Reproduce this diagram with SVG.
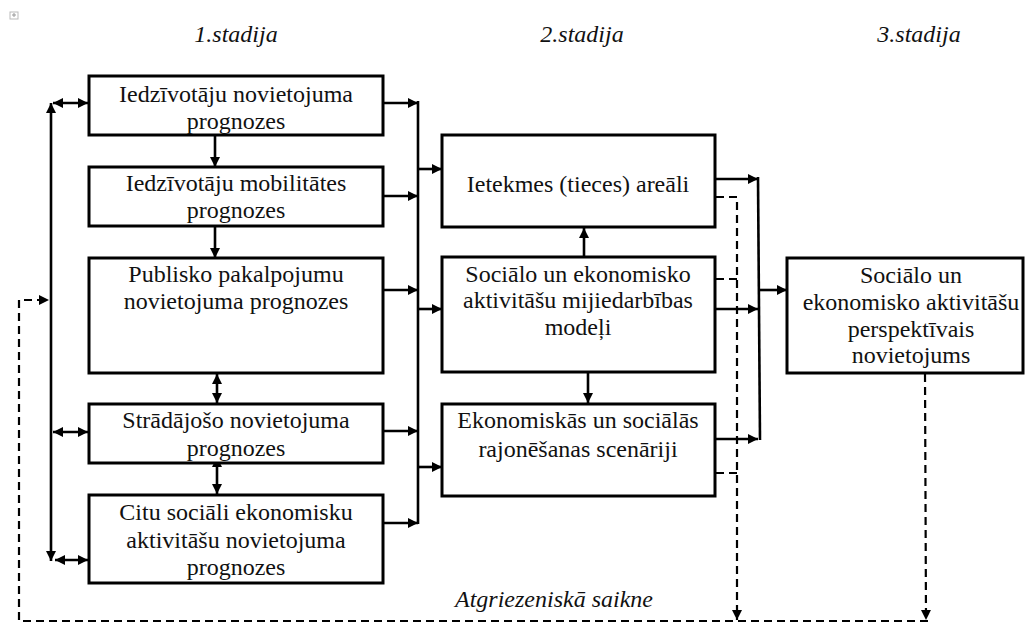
<svg xmlns="http://www.w3.org/2000/svg" width="1027" height="623" viewBox="0 0 1027 623">
<style>
  .box{fill:#fff;stroke:#000;stroke-width:3}
  .t{font-family:'Liberation Serif','Times New Roman',Times,'DejaVu Serif',serif;font-size:24px;fill:#111;text-anchor:middle}
  .it{font-family:'Liberation Serif','Times New Roman',Times,'DejaVu Serif',serif;font-size:24px;font-style:italic;fill:#111;text-anchor:middle}
  .c{fill:none;stroke:#000;stroke-width:2.6}
  .d{fill:none;stroke:#000;stroke-width:2.2;stroke-dasharray:8 5}
</style>
<defs>
  <marker id="ah" viewBox="0 0 10 10" refX="10" refY="5" markerWidth="11" markerHeight="10" markerUnits="userSpaceOnUse" orient="auto-start-reverse">
    <path d="M0,0 L10,5 L0,10 z" fill="#000"/>
  </marker>
</defs>
<rect width="1027" height="623" fill="#fff"/>
<g id="icon">
  <rect x="10" y="12" width="8" height="7" fill="none" stroke="#bbb" stroke-width="1"/>
  <path d="M12,15 H16 M14,13 V17" stroke="#999" stroke-width="1"/>
</g>
<g id="stages">
  <text class="it" x="236" y="42">1.stadija</text>
  <text class="it" x="582" y="42">2.stadija</text>
  <text class="it" x="919" y="42">3.stadija</text>
  <text class="it" x="554" y="607">Atgriezeniskā saikne</text>
</g>
<g id="connectors">
  <line class="c" x1="215" y1="135" x2="215" y2="167" marker-end="url(#ah)"/>
  <line class="c" x1="215" y1="226" x2="215" y2="258" marker-end="url(#ah)"/>
  <line class="c" x1="217" y1="374" x2="217" y2="403" marker-start="url(#ah)" marker-end="url(#ah)"/>
  <line class="c" x1="217" y1="457" x2="217" y2="494" marker-start="url(#ah)" marker-end="url(#ah)"/>
  <line class="c" x1="51" y1="103" x2="51" y2="561" marker-start="url(#ah)" marker-end="url(#ah)"/>
  <line class="c" x1="53" y1="103" x2="88" y2="103" marker-start="url(#ah)" marker-end="url(#ah)"/>
  <line class="c" x1="53" y1="432" x2="88" y2="432" marker-start="url(#ah)" marker-end="url(#ah)"/>
  <line class="c" x1="55" y1="560" x2="88" y2="560" marker-start="url(#ah)" marker-end="url(#ah)"/>
  <line class="c" x1="383" y1="103" x2="418" y2="103" marker-end="url(#ah)"/>
  <line class="c" x1="383" y1="196" x2="418" y2="196" marker-end="url(#ah)"/>
  <line class="c" x1="383" y1="290" x2="418" y2="290" marker-end="url(#ah)"/>
  <line class="c" x1="383" y1="431" x2="418" y2="431" marker-end="url(#ah)"/>
  <line class="c" x1="383" y1="523" x2="418" y2="523" marker-end="url(#ah)"/>
  <line class="c" x1="418" y1="101" x2="418" y2="524"/>
  <line class="c" x1="418" y1="169" x2="442" y2="169" marker-end="url(#ah)"/>
  <line class="c" x1="418" y1="309" x2="442" y2="309" marker-end="url(#ah)"/>
  <line class="c" x1="418" y1="467" x2="442" y2="467" marker-end="url(#ah)"/>
  <line class="c" x1="584" y1="257" x2="584" y2="228" marker-end="url(#ah)"/>
  <line class="c" x1="588" y1="372" x2="588" y2="403" marker-end="url(#ah)"/>
  <line class="c" x1="716" y1="179" x2="758" y2="179" marker-end="url(#ah)"/>
  <line class="c" x1="716" y1="309" x2="758" y2="309" marker-end="url(#ah)"/>
  <line class="c" x1="716" y1="439" x2="758" y2="439" marker-end="url(#ah)"/>
  <line class="c" x1="758" y1="177" x2="760" y2="440"/>
  <line class="c" x1="759" y1="290" x2="787" y2="290" marker-end="url(#ah)"/>
  <polyline class="d" points="716,197 737,197 737,620" marker-end="url(#ah)"/>
  <line class="d" x1="716" y1="279" x2="737" y2="279"/>
  <line class="d" x1="716" y1="473" x2="737" y2="473"/>
  <line class="d" x1="925" y1="374" x2="926" y2="620" marker-end="url(#ah)"/>
  <polyline class="d" points="928,621 19,621 19,300 49,300" marker-end="url(#ah)"/>
</g>
<g id="n1">
  <rect class="box" x="89" y="76" width="294" height="59"/>
  <text class="t" x="236" y="102">Iedzīvotāju novietojuma</text>
  <text class="t" x="236" y="129">prognozes</text>
</g>
<g id="n2">
  <rect class="box" x="89" y="167" width="294" height="59"/>
  <text class="t" x="236" y="191">Iedzīvotāju mobilitātes</text>
  <text class="t" x="236" y="218">prognozes</text>
</g>
<g id="n3">
  <rect class="box" x="89" y="258" width="294" height="115"/>
  <text class="t" x="236" y="282">Publisko pakalpojumu</text>
  <text class="t" x="236" y="309">novietojuma prognozes</text>
</g>
<g id="n4">
  <rect class="box" x="89" y="404" width="294" height="59"/>
  <text class="t" x="236" y="428">Strādājošo novietojuma</text>
  <text class="t" x="236" y="456">prognozes</text>
</g>
<g id="n5">
  <rect class="box" x="89" y="495" width="294" height="88"/>
  <text class="t" x="236" y="520">Citu sociāli ekonomisku</text>
  <text class="t" x="236" y="548">aktivitāšu novietojuma</text>
  <text class="t" x="236" y="575">prognozes</text>
</g>
<g id="m1">
  <rect class="box" x="442" y="135" width="273" height="92"/>
  <text class="t" x="578" y="192">Ietekmes (tieces) areāli</text>
</g>
<g id="m2">
  <rect class="box" x="442" y="257" width="273" height="115"/>
  <text class="t" x="578" y="282">Sociālo un ekonomisko</text>
  <text class="t" x="578" y="308">aktivitāšu mijiedarbības</text>
  <text class="t" x="578" y="335">modeļi</text>
</g>
<g id="m3">
  <rect class="box" x="442" y="404" width="273" height="92"/>
  <text class="t" x="578" y="428">Ekonomiskās un sociālās</text>
  <text class="t" x="578" y="457">rajonēšanas scenāriji</text>
</g>
<g id="r1">
  <rect class="box" x="787" y="258" width="236" height="115"/>
  <text class="t" x="911" y="283">Sociālo un</text>
  <text class="t" x="911" y="310">ekonomisko aktivitāšu</text>
  <text class="t" x="911" y="337">perspektīvais</text>
  <text class="t" x="911" y="363">novietojums</text>
</g>
</svg>
